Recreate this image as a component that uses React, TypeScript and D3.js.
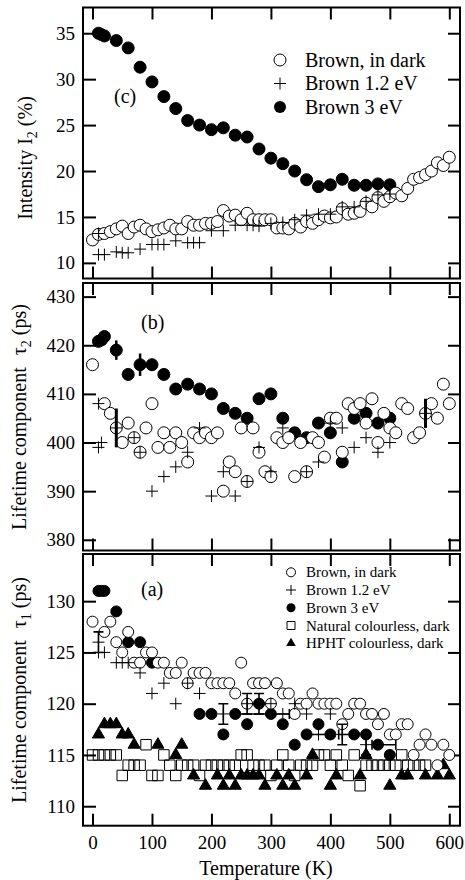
import React, { useEffect, useRef } from "react";
import * as d3 from "d3";

// ---- tick labels ----
const xTicks = [0, 100, 200, 300, 400, 500, 600];
const cTicks = [10, 15, 20, 25, 30, 35];
const bTicks = [380, 390, 400, 410, 420, 430];
const aTicks = [110, 115, 120, 125, 130];

// ---- panel (c): intensity I2 (%) ----
const cDarkT = [0, 10, 20, 30, 40, 50, 60, 70, 80, 90, 100, 110, 120, 130, 140, 150, 160, 170, 180, 190, 200, 210, 220, 230, 240, 250, 260, 270, 280, 290, 300, 310, 320, 330, 340, 350, 360, 370, 380, 390, 400, 410, 420, 430, 440, 450, 460, 470, 480, 490, 500, 510, 520, 530, 540, 550, 560, 570, 580, 590, 600];
const cDarkV = [12.5, 13.1, 13.2, 13.4, 13.7, 14.0, 13.2, 13.9, 14.1, 13.7, 13.4, 13.6, 13.8, 14.1, 13.7, 13.7, 14.5, 14.1, 14.1, 14.3, 14.3, 14.5, 15.7, 15.1, 15.2, 14.7, 15.4, 14.7, 14.7, 14.7, 14.7, 13.8, 13.8, 13.7, 14.3, 13.9, 14.5, 14.3, 14.7, 15.1, 14.9, 15.0, 15.9, 15.3, 15.4, 15.6, 16.5, 16.1, 17.1, 16.7, 17.2, 17.6, 17.3, 18.1, 19.1, 19.3, 19.6, 20.0, 20.9, 20.6, 21.5];
const c12T = [10, 10, 20, 40, 50, 60, 80, 100, 110, 120, 140, 160, 170, 180, 200, 220, 240, 260, 270, 280, 300, 320, 340, 360, 380, 400, 420, 440, 460, 480, 500];
const c12V = [13.2, 10.9, 10.9, 11.2, 11.1, 11.1, 11.5, 12.0, 12.0, 12.0, 12.4, 12.2, 12.2, 12.2, 13.5, 13.5, 14.1, 14.1, 14.1, 14.0, 14.3, 14.4, 14.7, 15.2, 15.3, 15.3, 16.1, 16.1, 16.7, 17.4, 17.5];
const c3T = [10, 15, 20, 40, 60, 80, 100, 120, 140, 160, 180, 200, 220, 240, 260, 280, 300, 320, 340, 360, 380, 400, 420, 440, 460, 480, 500];
const c3V = [35.0, 34.85, 34.7, 34.2, 33.4, 31.3, 29.7, 28.1, 26.8, 25.5, 25.0, 24.5, 24.7, 23.9, 23.7, 22.4, 21.4, 20.8, 20.0, 19.05, 18.3, 18.5, 19.1, 18.45, 18.45, 18.6, 18.5];

// ---- panel (b): tau2 (ps) ----
const bDarkT = [0, 20, 30, 40, 50, 60, 70, 80, 90, 100, 110, 120, 130, 140, 150, 160, 170, 180, 190, 200, 210, 220, 230, 240, 250, 260, 270, 280, 290, 300, 310, 320, 330, 340, 350, 360, 370, 380, 390, 400, 410, 420, 430, 440, 450, 460, 470, 480, 490, 500, 510, 520, 530, 540, 550, 560, 570, 580, 590, 600];
const bDarkV = [416, 408, 406, 403, 400, 404, 401, 398, 403, 408, 399, 402, 399, 402, 400, 396, 402, 401, 402, 401, 402, 390, 396, 394, 403, 392, 403, 398, 394, 393, 401, 400, 401, 393, 400, 394, 401, 400, 397, 405, 405, 398, 408, 407, 408, 404, 409, 400, 406, 403, 402, 408, 407, 401, 402, 406, 408, 405, 412, 408];
const b12T = [10, 10, 15, 40, 70, 80, 100, 120, 140, 160, 180, 200, 220, 240, 260, 280, 300, 320, 360, 380, 400, 420, 440, 460, 480, 500, 560];
const b12V = [408, 399, 400, 403, 401, 398, 390, 393, 395, 398, 403, 389, 394, 389, 392, 399, 394, 403, 394, 396, 404, 403, 399, 401, 398, 400, 406];
const b3T = c3T;
const b3V = [420.8, 421.1, 421.8, 419, 414, 416, 416, 414, 411, 412, 411, 410, 407, 406, 405, 409, 410, 405, 402, 401, 404, 402, 396, 405, 406, 404, 405];
// error bars [T, value, error]
const bErr3 = [[40, 419, 2], [80, 416, 2.3]];
const bErrDark = [[40, 403, 4], [560, 406, 3]];

// ---- panel (a): tau1 (ps) ----
const aDarkT = bDarkT;
const aDarkV = [128, 127, 128, 126, 125, 127, 124, 124, 125, 125, 124, 124, 123, 123, 124, 122, 123, 123, 123, 122, 122, 122, 122, 121, 124, 120, 122, 122, 122, 120, 122, 121, 121, 119, 120, 120, 121, 120, 120, 120, 120, 118, 119, 120, 120, 119, 119, 118, 119, 117, 117, 118, 118, 115, 116, 117, 116, 114, 116, 115];
const a12T = [10, 10, 20, 40, 50, 60, 80, 100, 120, 140, 160, 180, 220, 260, 280, 300, 320, 340, 360, 380, 400, 420, 460];
const a12V = [126, 125, 125, 124, 124, 124, 123, 121, 122, 120, 122, 121, 119, 120, 120, 120, 119, 120, 119, 117, 119, 117, 116];
const a3T = [10, 15, 20, 40, 60, 80, 100, 180, 200, 220, 240, 260, 280, 300, 320, 340, 360, 380, 400, 440, 460, 480, 500];
const a3V = [131, 131, 131, 129, 126, 126, 124, 119, 119, 117, 119, 118, 120, 119, 118, 116, 117, 118, 117, 117, 117, 116, 115];
const aNatT = [0, 10, 20, 30, 40, 50, 60, 70, 80, 90, 100, 110, 120, 130, 140, 150, 160, 170, 180, 190, 200, 210, 220, 230, 240, 250, 260, 270, 280, 290, 300, 310, 320, 330, 340, 350, 360, 370, 380, 390, 400, 410, 420, 430, 440, 450, 460, 470, 480, 490, 500, 510, 520, 530, 540, 550, 560];
const aNatV = [115, 115, 115, 115, 115, 113, 114, 114, 114, 116, 113, 113, 115, 114, 113, 114, 114, 114, 113, 114, 114, 114, 114, 114, 114, 115, 115, 114, 114, 114, 113, 114, 115, 114, 113, 114, 114, 114, 115, 115, 114, 115, 114, 113, 115, 112, 114, 114, 114, 114, 114, 114, 115, 114, 114, 114, 114];
const aHpT = [10, 20, 30, 40, 50, 60, 70, 110, 140, 150, 170, 190, 210, 220, 230, 240, 250, 260, 270, 280, 290, 310, 320, 330, 340, 360, 370, 400, 410, 450, 460, 500, 520, 530, 560, 580, 590, 600];
const aHpV = [117, 118, 118, 118, 117, 117, 116, 116, 115, 116, 113, 112, 113, 112, 113, 112, 113, 113, 113, 113, 112, 113, 112, 113, 112, 113, 115, 112, 113, 113, 115, 112, 113, 113, 113, 113, 114, 113];
const aErrV = [[10, 126, 1], [220, 119, 1], [260, 120, 1], [280, 120, 1], [420, 117, 1], [460, 116, 1]];
const aErrH = [[286, 119, 45], [380, 117, 20], [436, 117, 22], [490, 116, 20]];

const legendC = ["Brown, in dark", "Brown 1.2 eV", "Brown 3 eV"];
const legendA = ["Brown, in dark", "Brown 1.2 eV", "Brown 3 eV", "Natural colourless, dark", "HPHT colourless, dark"];

const FONT = "Liberation Serif, Times New Roman, serif";

const zip = (t: number[], v: number[]) => t.map((d, i) => ({ t: d, v: v[i] }));

export default function App() {
  const svgRef = useRef<SVGSVGElement>(null);

  useEffect(() => {
    const svg = d3.select(svgRef.current);
    svg.selectAll("*").remove();

    const L = 83, R = 460;
    const x = d3.scaleLinear().domain([-16, 618]).range([L, R]);

    const panels = [
      { top: 7.5, bottom: 278.5, domain: [8.3, 37.8], ticks: cTicks },
      { top: 283, bottom: 550.5, domain: [377.8, 432.8], ticks: bTicks },
      { top: 554, bottom: 825.7, domain: [108.1, 134.6], ticks: aTicks },
    ];
    const ys = panels.map((p) => d3.scaleLinear().domain(p.domain).range([p.bottom, p.top]));

    const styleAxis = (g: any) => {
      g.attr("font-family", null).attr("font-size", null);
      g.select(".domain").remove();
      g.selectAll(".tick line").attr("stroke", "black").attr("stroke-width", 2);
      g.selectAll("text").style("font-family", FONT).style("font-size", "19px").attr("fill", "black");
    };

    // frames + axes
    panels.forEach((p, i) => {
      const y = ys[i];
      svg.append("g").attr("transform", `translate(${L},0)`)
        .call(d3.axisLeft(y).tickValues(p.ticks).tickSizeInner(-13).tickSizeOuter(0).tickPadding(8))
        .call(styleAxis);
      svg.append("g").attr("transform", `translate(${R},0)`)
        .call(d3.axisRight(y).tickValues(p.ticks).tickSizeInner(-12).tickSizeOuter(0).tickFormat(() => ""))
        .call(styleAxis);
      svg.append("g").attr("transform", `translate(0,${p.top})`)
        .call(d3.axisTop(x).tickValues(xTicks).tickSizeInner(-12).tickSizeOuter(0).tickFormat(() => ""))
        .call(styleAxis);
      const bottomAxis = d3.axisBottom(x).tickValues(xTicks).tickSizeInner(-12).tickSizeOuter(0).tickPadding(10);
      if (i < 2) bottomAxis.tickFormat(() => "");
      svg.append("g").attr("transform", `translate(0,${p.bottom})`).call(bottomAxis).call(styleAxis);
      svg.append("rect")
        .attr("x", L).attr("y", p.top).attr("width", R - L).attr("height", p.bottom - p.top)
        .attr("fill", "none").attr("stroke", "black").attr("stroke-width", 2);
    });

    // marker helpers
    const circles = (g: any, data: any[], y: any, r: number, filled: boolean) =>
      g.selectAll(null).data(data).join("circle")
        .attr("cx", (d: any) => x(d.t)).attr("cy", (d: any) => y(d.v)).attr("r", r)
        .attr("fill", filled ? "black" : "white").attr("stroke", "black").attr("stroke-width", 1);
    const crosses = (g: any, data: any[], y: any, h: number) =>
      g.selectAll(null).data(data).join("path")
        .attr("d", (d: any) => {
          const cx = x(d.t), cy = y(d.v);
          return `M${cx - h},${cy}H${cx + h}M${cx},${cy - h}V${cy + h}`;
        })
        .attr("stroke", "black").attr("stroke-width", 1).attr("fill", "none");
    const symbols = (g: any, data: any[], y: any, type: any, size: number, filled: boolean) =>
      g.selectAll(null).data(data).join("path")
        .attr("transform", (d: any) => `translate(${x(d.t)},${y(d.v)})`)
        .attr("d", d3.symbol().type(type).size(size)())
        .attr("fill", filled ? "black" : "none").attr("stroke", "black").attr("stroke-width", 1);

    // panel (c)
    {
      const y = ys[0];
      const g = svg.append("g");
      circles(g, zip(c3T, c3V), y, 6, true);
      circles(g, zip(cDarkT, cDarkV), y, 6, false);
      crosses(g, zip(c12T, c12V), y, 6);
    }

    // panel (b)
    {
      const y = ys[1];
      const g = svg.append("g");
      g.selectAll(null).data(bErr3).join("line")
        .attr("x1", (d: any) => x(d[0])).attr("x2", (d: any) => x(d[0]))
        .attr("y1", (d: any) => y(d[1] - d[2])).attr("y2", (d: any) => y(d[1] + d[2]))
        .attr("stroke", "black").attr("stroke-width", 2.5);
      circles(g, zip(b3T, b3V), y, 6, true);
      circles(g, zip(bDarkT, bDarkV), y, 6, false);
      crosses(g, zip(b12T, b12V), y, 6);
      g.selectAll(null).data(bErrDark).join("line")
        .attr("x1", (d: any) => x(d[0])).attr("x2", (d: any) => x(d[0]))
        .attr("y1", (d: any) => y(d[1] - d[2])).attr("y2", (d: any) => y(d[1] + d[2]))
        .attr("stroke", "black").attr("stroke-width", 3);
    }

    // panel (a)
    {
      const y = ys[2];
      const g = svg.append("g");
      symbols(g, zip(aNatT, aNatV), y, d3.symbolSquare, 110, false);
      symbols(g, zip(aHpT, aHpV), y, d3.symbolTriangle, 64, true);
      circles(g, zip(a3T, a3V), y, 5.5, true);
      circles(g, zip(aDarkT, aDarkV), y, 5.5, false);
      crosses(g, zip(a12T, a12V), y, 6);
      g.selectAll(null).data(aErrV).join("path")
        .attr("d", (d: any) => {
          const cx = x(d[0]), y1 = y(d[1] + d[2]), y0 = y(d[1] - d[2]);
          return `M${cx},${y1}V${y0}M${cx - 5},${y1}H${cx + 5}M${cx - 5},${y0}H${cx + 5}`;
        })
        .attr("stroke", "black").attr("stroke-width", 1.6).attr("fill", "none");
      g.selectAll(null).data(aErrH).join("path")
        .attr("d", (d: any) => {
          const cy = y(d[1]), x0 = x(d[0] - d[2]), x1 = x(d[0] + d[2]);
          return `M${x0},${cy}H${x1}M${x0},${cy - 5}V${cy + 5}M${x1},${cy - 5}V${cy + 5}`;
        })
        .attr("stroke", "black").attr("stroke-width", 1.6).attr("fill", "none");
    }

    // panel labels
    const txt = (s: string, px: number, py: number, size: number, anchor = "start") =>
      svg.append("text").attr("x", px).attr("y", py)
        .style("font-family", FONT).style("font-size", `${size}px`)
        .attr("text-anchor", anchor).attr("fill", "black").text(s);
    txt("(c)", 114, 103, 20);
    txt("(b)", 141, 329, 20);
    txt("(a)", 141, 596, 20);

    // legend (c)
    {
      const lx = 280, rows = [60, 83.5, 107];
      const g = svg.append("g");
      g.append("circle").attr("cx", lx).attr("cy", rows[0]).attr("r", 6).attr("fill", "white").attr("stroke", "black");
      g.append("path").attr("d", `M${lx - 6},${rows[1]}H${lx + 6}M${lx},${rows[1] - 6}V${rows[1] + 6}`).attr("stroke", "black");
      g.append("circle").attr("cx", lx).attr("cy", rows[2]).attr("r", 6).attr("fill", "black");
      legendC.forEach((s, i) => txt(s, 305, rows[i] + 6.5, 20));
    }

    // legend (a)
    {
      const lx = 291, rows = [572.3, 590, 607.7, 625.5, 643.3];
      const g = svg.append("g");
      g.append("circle").attr("cx", lx).attr("cy", rows[0]).attr("r", 4.5).attr("fill", "white").attr("stroke", "black");
      g.append("path").attr("d", `M${lx - 5},${rows[1]}H${lx + 5}M${lx},${rows[1] - 5}V${rows[1] + 5}`).attr("stroke", "black");
      g.append("circle").attr("cx", lx).attr("cy", rows[2]).attr("r", 4.5).attr("fill", "black");
      g.append("path").attr("transform", `translate(${lx},${rows[3]})`)
        .attr("d", d3.symbol().type(d3.symbolSquare).size(64)()).attr("fill", "none").attr("stroke", "black");
      g.append("path").attr("transform", `translate(${lx},${rows[4]})`)
        .attr("d", d3.symbol().type(d3.symbolTriangle).size(40)()).attr("fill", "black");
      legendA.forEach((s, i) => txt(s, 306, rows[i] + 5, 15));
    }

    // axis titles
    txt("Temperature (K)", 266, 875, 20, "middle");

    const yTitle = (cx: number, cy: number, main: string, sym: string, sub: string, unit: string, gap: number) => {
      const t = svg.append("text")
        .attr("transform", `translate(${cx},${cy}) rotate(-90)`)
        .attr("text-anchor", "middle")
        .style("font-family", FONT).style("font-size", "20px").attr("fill", "black");
      t.append("tspan").text(main);
      t.append("tspan").attr("dx", gap).text(sym);
      t.append("tspan").attr("dy", 5).style("font-size", "14px").text(sub);
      t.append("tspan").attr("dy", -5).text(unit);
    };
    yTitle(32, 158, "Intensity", " I", "2", " (%)", 0);
    yTitle(26, 417, "Lifetime component", "τ", "2", " (ps)", 12);
    yTitle(26, 690, "Lifetime component", "τ", "1", " (ps)", 12);
  }, []);

  return (
    <svg
      ref={svgRef}
      width={465}
      height={880}
      style={{ position: "absolute", left: 0, top: 0, background: "white" }}
    />
  );
}
